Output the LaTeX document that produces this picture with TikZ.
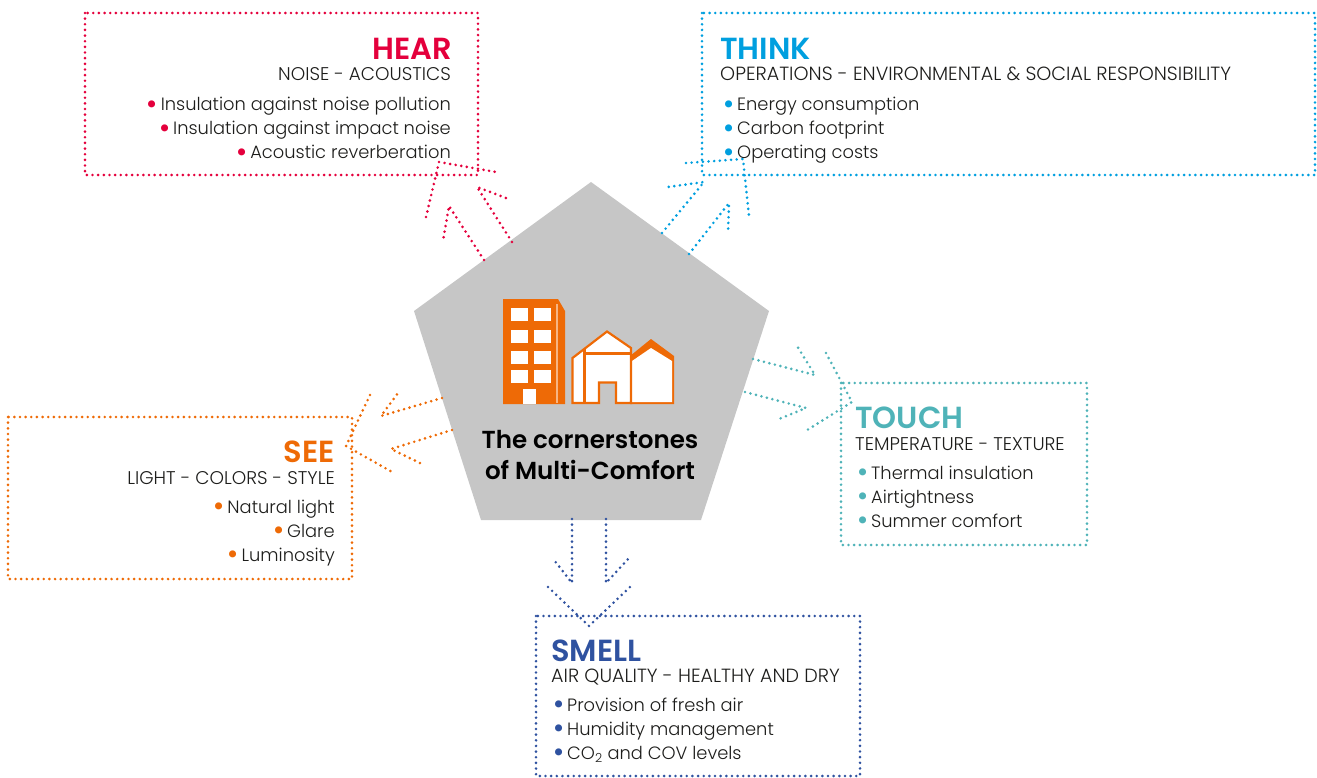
\documentclass[tikz,border=0pt]{standalone}
\usepackage{fontspec}
\setmainfont{Poppins}[UprightFont=* Light,BoldFont=* SemiBold]
\newfontfamily\medfont{Poppins}[UprightFont=* SemiBold]
\definecolor{cHear}{HTML}{E4003C}
\definecolor{cThink}{HTML}{009FDF}
\definecolor{cTouch}{HTML}{4FB3B8}
\definecolor{cSee}{HTML}{EE6A06}
\definecolor{cSmell}{HTML}{2F52A0}
\definecolor{cGrey}{HTML}{C6C6C6}
\definecolor{cText}{HTML}{1D1D1B}
\tikzset{
 x=1pt,y=-1pt,
 dotline/.style={line width=2.9pt,line cap=round,line join=round,dash pattern=on 0pt off 5.65pt},
 frameline/.style={dotline},
 head/.style={inner sep=0pt,font=\fontsize{30.5}{31}\selectfont\bfseries},
 sub/.style={inner sep=0pt,text=cText,font=\fontsize{19.1}{19}\selectfont},
 subsmall/.style={inner sep=0pt,text=cText,font=\fontsize{18.4}{19}\selectfont},
 item/.style={inner sep=0pt,text=cText,font=\fontsize{17.85}{18}\selectfont},
 titletext/.style={inner sep=0pt,align=center,text=black,font=\fontsize{24.6}{31}\selectfont\medfont},
}
\newcommand{\bul}[1]{\makebox[16pt][l]{\hspace{2pt}{\color{#1}\smash{\raisebox{-0.2em}{\scalebox{1.7}{\textbullet}}}}}}
\begin{document}
\begin{tikzpicture}
\useasboundingbox (0,0) rectangle (1317,778);
% pentagon
\fill[cGrey] (591,182) -- (769,311) -- (701,520) -- (481,520) -- (414,311) -- cycle;
% frames
\coordinate (h1) at (85,13); \coordinate (h2) at (478,175);
\coordinate (t1) at (702,13); \coordinate (t2) at (1315,175);
\coordinate (o1) at (841,383); \coordinate (o2) at (1087,545);
\coordinate (s1) at (8,417); \coordinate (s2) at (352,579);
\coordinate (m1) at (536,616); \coordinate (m2) at (860,776);
\draw[frameline,cHear] (h1) rectangle (h2);
\draw[frameline,cThink] (t1) rectangle (t2);
\draw[frameline,cTouch] (o1) rectangle (o2);
\draw[frameline,cSee] (s1) rectangle (s2);
\draw[frameline,cSmell] (m1) rectangle (m2);
% HEAR arrows
\draw[dotline,cHear] (484,260) -- (449,206) -- (443,241);
\draw[dotline,cHear] (512,242) -- (477,187) -- (506,198);
\draw[dotline,cHear] (426,217) -- (439,162) -- (496,172);
% THINK arrows
\draw[dotline,cThink] (662,233) -- (704,182) -- (668,187);
\draw[dotline,cThink] (689,254) -- (729,203) -- (728,233);
\draw[dotline,cThink] (686,163) -- (743,159) -- (749,216);
% TOUCH arrows
\draw[dotline,cTouch] (753,359) -- (815,375) -- (797,346);
\draw[dotline,cTouch] (745,392) -- (806,408) -- (779,419);
\draw[dotline,cTouch] (826,353) -- (852,402) -- (804,432);
% SEE arrows
\draw[dotline,cSee] (442,398) -- (381,416) -- (398,393);
\draw[dotline,cSee] (452,430) -- (391,449) -- (422,464);
\draw[dotline,cSee] (370,395) -- (346,446) -- (394,473);
% SMELL arrows
\draw[dotline,cSmell] (572,519) -- (572,583) -- (554,560);
\draw[dotline,cSmell] (606,519) -- (606,583) -- (629,558);
\draw[dotline,cSmell] (548,587) -- (589,626) -- (630,587);
% building
\fill[cSee] (503,299) -- (558,299) -- (565,311) -- (565,404) -- (503,404) -- cycle;
\foreach \yy in {308,330,351,370}{
 \fill[white] (511,\yy) rectangle (528,\yy+13);
 \fill[white] (534,\yy) rectangle (551,\yy+13);
}
\fill[white] (523,389) rectangle (536,404);
\draw[line width=1.4pt,cSee!50!white] (557,304) -- (557,403);
% houses
\fill[white] (572,358) -- (607,331) -- (631,348) -- (631,403) -- (572,403) -- cycle;
\fill[cSee] (630,356) -- (651,339) -- (674,356) -- (674,404) -- (630,404) -- cycle;
\fill[white] (632,361) -- (651,348) -- (672,361) -- (672,402) -- (632,402) -- cycle;
\fill[cGrey] (599,382) rectangle (616,404);
\draw[line width=2.2pt,cSee,line join=miter] (572.5,358) -- (607,331.5) -- (631,348) -- (631,403) -- (616,403) -- (616,382.5) -- (599,382.5) -- (599,403) -- (572.5,403) -- cycle;
\draw[line width=2.2pt,cSee] (584.5,349) -- (584.5,404) (584.5,353.5) -- (631,353.5);
% centre title
\node[titletext] (title) at (590,455) {The cornerstones\\of Multi-Comfort};
% HEAR
\node[head,text=cHear,anchor=base east] (hhead) at (452,60) {HEAR};
\node[subsmall,anchor=base east] (hsub) at (451,81) {NOISE - ACOUSTICS};
\node[item,anchor=base east] (hi1) at (451,111) {\bul{cHear}Insulation against noise pollution};
\node[item,anchor=base east] (hi2) at (451,135) {\bul{cHear}Insulation against impact noise};
\node[item,anchor=base east] (hi3) at (451,159) {\bul{cHear}Acoustic reverberation};
% THINK
\node[head,text=cThink,anchor=base west] (thead) at (720,60) {THINK};
\node[sub,anchor=base west] (tsub) at (720,81) {OPERATIONS - ENVIRONMENTAL \& SOCIAL RESPONSIBILITY};
\node[item,anchor=base west] (ti1) at (721,111) {\bul{cThink}Energy consumption};
\node[item,anchor=base west] (ti2) at (721,135) {\bul{cThink}Carbon footprint};
\node[item,anchor=base west] (ti3) at (721,159) {\bul{cThink}Operating costs};
% TOUCH
\node[head,text=cTouch,anchor=base west] (ohead) at (855,428) {TOUCH};
\node[subsmall,anchor=base west] (osub) at (855,450) {TEMPERATURE - TEXTURE};
\node[item,anchor=base west] (oi1) at (855,479) {\bul{cTouch}Thermal insulation};
\node[item,anchor=base west] (oi2) at (855,503) {\bul{cTouch}Airtightness};
\node[item,anchor=base west] (oi3) at (855,527) {\bul{cTouch}Summer comfort};
% SEE
\node[head,text=cSee,anchor=base east] (shead) at (335,462) {SEE};
\node[subsmall,anchor=base east] (ssub) at (335,484) {LIGHT - COLORS - STYLE};
\node[item,anchor=base east] (si1) at (335,513) {\bul{cSee}Natural light};
\node[item,anchor=base east] (si2) at (335,537) {\bul{cSee}Glare};
\node[item,anchor=base east] (si3) at (335,561) {\bul{cSee}Luminosity};
% SMELL
\node[head,text=cSmell,anchor=base west] (mhead) at (551,661) {SMELL};
\node[sub,anchor=base west] (msub) at (551,682) {AIR QUALITY - HEALTHY AND DRY};
\node[item,anchor=base west] (mi1) at (551,711) {\bul{cSmell}Provision of fresh air};
\node[item,anchor=base west] (mi2) at (551,735) {\bul{cSmell}Humidity management};
\node[item,anchor=base west] (mi3) at (551,759) {\bul{cSmell}CO$_{\mathrm{2}}$ and COV levels};
\end{tikzpicture}
\end{document}
